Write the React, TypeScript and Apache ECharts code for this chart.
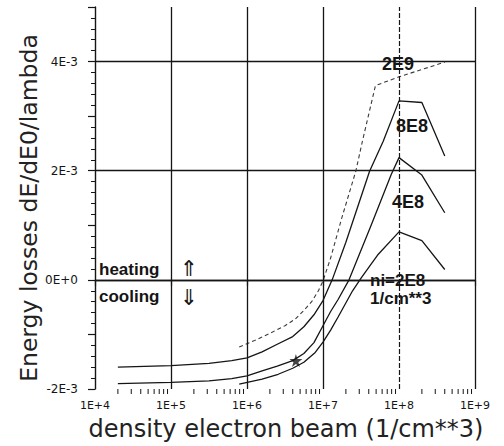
import React, { useEffect, useRef } from 'react';
import * as echarts from 'echarts';

// x: electron beam density (1/cm**3), y: energy losses dE/dE0/lambda
const curve2E9: [number, number][] = [
  [7.9e5, -1.23e-3], [1.26e6, -1.11e-3], [2e6, -0.98e-3], [3.16e6, -0.84e-3],
  [4.3e6, -0.72e-3], [5.6e6, -0.56e-3], [7.1e6, -0.4e-3], [8.7e6, -0.2e-3],
  [1e7, -0.02e-3], [1.26e7, 0.4e-3], [1.78e7, 1.15e-3], [2.7e7, 1.99e-3],
  [3.3e7, 2.54e-3], [4.9e7, 3.56e-3], [1e8, 3.72e-3], [4e8, 3.99e-3],
];
const curve8E8: [number, number][] = [
  [2e4, -1.6e-3], [1e5, -1.57e-3], [3.16e5, -1.53e-3], [6.3e5, -1.48e-3],
  [1e6, -1.43e-3], [1.58e6, -1.32e-3], [2.5e6, -1.18e-3], [4e6, -1.04e-3],
  [5.6e6, -0.86e-3], [7.6e6, -0.64e-3], [1e7, -0.38e-3], [1.32e7, 0.0],
  [2e7, 0.69e-3], [4.1e7, 1.99e-3], [6.2e7, 2.54e-3], [1e8, 3.28e-3],
  [2e8, 3.25e-3], [4e8, 2.27e-3],
];
const curve4E8: [number, number][] = [
  [2e4, -1.9e-3], [1e5, -1.88e-3], [3.16e5, -1.85e-3], [6.3e5, -1.81e-3],
  [1e6, -1.76e-3], [1.58e6, -1.67e-3], [2.5e6, -1.58e-3], [4e6, -1.48e-3],
  [5.6e6, -1.35e-3], [7.6e6, -1.15e-3], [1e7, -0.84e-3], [1.26e7, -0.58e-3],
  [1.58e7, -0.36e-3], [2.2e7, 0.0], [4.3e7, 1.0e-3], [7.9e7, 1.93e-3],
  [1e8, 2.24e-3], [2e8, 1.92e-3], [4e8, 1.23e-3],
];
const curve2E8: [number, number][] = [
  [7.9e5, -1.91e-3], [1.58e6, -1.82e-3], [2.57e6, -1.73e-3], [4e6, -1.62e-3],
  [5.6e6, -1.51e-3], [7.9e6, -1.33e-3], [1e7, -1.14e-3], [1.26e7, -0.92e-3],
  [1.58e7, -0.68e-3], [2.45e7, -0.2e-3], [3.2e7, 0.04e-3], [5.2e7, 0.45e-3],
  [1e8, 0.88e-3], [2e8, 0.72e-3], [4e8, 0.19e-3],
];
const starPoint: [number, number][] = [[4.4e6, -1.48e-3]];

const xTickValues = [1e4, 1e5, 1e6, 1e7, 1e8, 1e9];
const xTickLabels = ['1E+4', '1E+5', '1E+6', '1E+7', '1E+8', '1E+9'];
const yTickValues = [-2e-3, 0, 2e-3, 4e-3];
const yTickLabels = ['-2E-3', '0E+0', '2E-3', '4E-3'];
const decades = [1e4, 1e5, 1e6, 1e7, 1e8];
const minorMultipliers = [2, 3, 4, 5, 6, 7, 8, 9];
const vGridValues = [1e5, 1e6, 1e7, 1e8, 1e9];
const hGridValues = [0, 2e-3, 4e-3];

const INK = '#151515';
const STAR = 'path://M50,0 L61,35 L98,35 L68,57 L79,91 L50,70 L21,91 L32,57 L2,35 L39,35 Z';

export default function App() {
  const ref = useRef<HTMLDivElement>(null);
  useEffect(() => {
    if (!ref.current) return;
    const chart = echarts.init(ref.current, undefined, { renderer: 'svg' });
    const minorTicks: number[][] = [];
    decades.forEach((d) => minorMultipliers.forEach((m) => minorTicks.push([d * m, -2e-3])));

    // y split lines every 1E-3 from -2E-3 to 5E-3; draw only the gridline values
    const ySplitColors: string[] = [];
    for (let k = -2; k <= 5; k++) {
      ySplitColors.push(hGridValues.some((g) => Math.abs(g - k * 1e-3) < 1e-9) ? INK : 'rgba(0,0,0,0)');
    }

    const lineSeries = (name: string, data: [number, number][], dashed = false) => ({
      name,
      type: 'line',
      data,
      showSymbol: false,
      symbol: 'none',
      smooth: false,
      silent: true,
      lineStyle: dashed
        ? { color: '#3a3a3a', width: 1.1, type: [4, 3] }
        : { color: INK, width: 1.3 },
      z: 3,
    });

    const txt = (text: string, x: number, y: number, size: number, align = 'left', family = 'Liberation Sans', weight: any = 'bold') => ({
      type: 'text',
      x,
      y,
      style: {
        text,
        fill: INK,
        font: `${weight} ${size}px "${family}"`,
        textAlign: align,
        textVerticalAlign: 'middle',
      },
      z: 10,
    });

    chart.setOption({
      animation: false,
      backgroundColor: '#fff',
      grid: { left: 95, right: 29, top: 7, bottom: 57 },
      xAxis: {
        type: 'log',
        logBase: 10,
        min: 1e4,
        max: 1e9,
        axisLine: { show: true, lineStyle: { color: INK, width: 1.4 } },
        axisTick: { show: true, length: 6, lineStyle: { color: INK, width: 1.2 } },
        axisLabel: {
          color: INK,
          fontSize: 11,
          fontFamily: 'DejaVu Sans',
          margin: 11,
          formatter: (v: number) => {
            const i = xTickValues.findIndex((t) => Math.abs(Math.log10(t) - Math.log10(v)) < 1e-6);
            return i >= 0 ? xTickLabels[i] : '';
          },
        },
        splitLine: { show: false },
      },
      yAxis: {
        type: 'value',
        min: -2e-3,
        max: 5e-3,
        interval: 1e-3,
        axisLine: { show: true, lineStyle: { color: INK, width: 1.4 } },
        axisTick: { show: true, length: 7, lineStyle: { color: INK, width: 1.2 } },
        minorTick: { show: true, splitNumber: 5, length: 4, lineStyle: { color: INK, width: 1 } },
        axisLabel: {
          color: INK,
          fontSize: 12,
          fontFamily: 'DejaVu Sans',
          margin: 17,
          formatter: (v: number) => {
            const i = yTickValues.findIndex((t) => Math.abs(t - v) < 1e-9);
            return i >= 0 ? yTickLabels[i] : '';
          },
        },
        splitLine: { show: true, lineStyle: { color: ySplitColors, width: 1.3 } },
      },
      series: [
        {
          type: 'line',
          data: curve2E8,
          symbol: 'none',
          silent: true,
          lineStyle: { opacity: 0 },
          markLine: {
            silent: true,
            symbol: ['none', 'none'],
            label: { show: false },
            lineStyle: { color: INK, width: 1.3, type: 'solid' },
            data: vGridValues.map((v) =>
              v === 1e8
                ? { xAxis: v, lineStyle: { color: INK, width: 1.2, type: [5, 2] } }
                : { xAxis: v }
            ),
          },
          z: 1,
        },
        lineSeries('2E9', curve2E9, true),
        lineSeries('8E8', curve8E8),
        lineSeries('4E8', curve4E8),
        lineSeries('2E8', curve2E8),
        {
          type: 'scatter',
          data: starPoint,
          symbol: STAR,
          symbolSize: 13,
          itemStyle: { color: INK },
          silent: true,
          z: 5,
        },
        {
          type: 'custom',
          data: minorTicks,
          silent: true,
          renderItem: (_p: any, api: any) => {
            const pt = api.coord([api.value(0), api.value(1)]);
            return {
              type: 'line',
              shape: { x1: pt[0], y1: pt[1], x2: pt[0], y2: pt[1] + 5 },
              style: { stroke: INK, lineWidth: 1 },
            };
          },
          z: 4,
        },
      ],
      graphic: [
        {
          type: 'text',
          x: 29,
          y: 208,
          rotation: Math.PI / 2,
          style: {
            text: 'Energy losses dE/dE0/lambda',
            fill: '#222',
            font: 'normal 23.5px "DejaVu Sans"',
            textAlign: 'center',
            textVerticalAlign: 'middle',
          },
        },
        {
          type: 'text',
          x: 286,
          y: 429,
          style: {
            text: 'density electron beam (1/cm**3)',
            fill: '#222',
            font: 'normal 24px "DejaVu Sans"',
            textAlign: 'center',
            textVerticalAlign: 'middle',
          },
        },
        txt('2E9', 398, 64, 18, 'center'),
        txt('8E8', 412, 126, 18, 'center'),
        txt('4E8', 408, 202, 18, 'center'),
        txt('ni=2E8', 370, 280, 17, 'left'),
        txt('1/cm**3', 370, 298, 17, 'left'),
        txt('heating', 99, 269, 17, 'left'),
        txt('cooling', 99, 296, 17, 'left'),
        txt('⇑', 189, 268, 22, 'center', 'DejaVu Sans', 'normal'),
        txt('⇓', 189, 297, 22, 'center', 'DejaVu Sans', 'normal'),
      ],
    });
    return () => chart.dispose();
  }, []);
  return (
    <div
      ref={ref}
      style={{ position: 'fixed', left: 0, top: 0, width: 504, height: 446 }}
    />
  );
}
